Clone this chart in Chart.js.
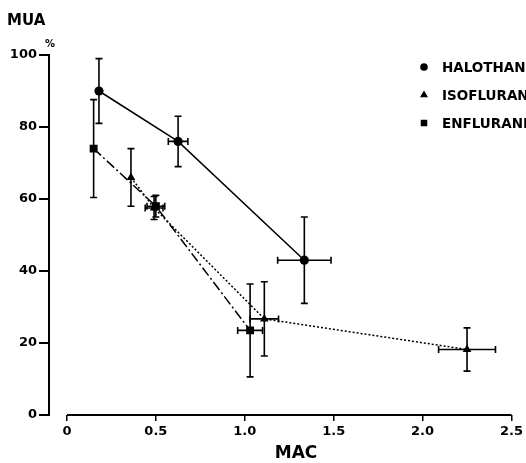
<!DOCTYPE html>
<html>
<head>
<meta charset="utf-8">
<script src="https://cdn.jsdelivr.net/npm/chart.js@4.4.0/dist/chart.umd.min.js"></script>
<style>
  html, body { margin: 0; padding: 0; background: #fff; }
  canvas { display: block; }
</style>
</head>
<body>
<canvas id="c" width="526" height="463"></canvas>
<script>
// ------------------------------------------------------------
//  MUA (%) vs MAC for three volatile anaesthetics
//  values, with SEM bars
// ------------------------------------------------------------
const seriesNames = ['HALOTHANE', 'ISOFLURANE', 'ENFLURANE'];

const haloMac  = [0.18, 0.625, 1.335];
const haloMua  = [90, 76, 43];
const haloErrY = [9, 7, 12];
const haloErrX = [0, 0.055, 0.15];

const isoMac  = [0.36, 0.49, 1.11, 2.25];
const isoMua  = [66, 57.5, 26.7, 18.2];
const isoErrY = [8, 3.2, 10.3, 6];
const isoErrX = [0, 0.05, 0.08, 0.16];

const enfMac  = [0.15, 0.5, 1.03];
const enfMua  = [74, 58, 23.5];
const enfErrY = [13.6, 3, 12.9];
const enfErrX = [0, 0.05, 0.07];

const xTicks      = [0, 0.5, 1.0, 1.5, 2.0, 2.5];
const xTickLabels = ['0', '0.5', '1.0', '1.5', '2.0', '2.5'];
const yTicks      = [0, 20, 40, 60, 80, 100];

const FONT = 'DejaVu Sans';
const INK  = '#000';

const pts = (xs, ys) => xs.map((x, i) => ({ x, y: ys[i] }));

function series(label, xs, ys, errX, errY, style, radius, dash) {
  return {
    label,
    data: pts(xs, ys),
    errX, errY,
    showLine: true,
    borderColor: INK,
    backgroundColor: INK,
    borderWidth: 1.5,
    borderDash: dash,
    pointStyle: style,
    pointRadius: radius,
    pointBorderWidth: 0,
    pointBackgroundColor: INK,
  };
}

// error bars (drawn under the markers)
const errorBars = {
  id: 'errorBars',
  beforeDatasetsDraw(chart) {
    const { ctx, scales: { x, y } } = chart;
    const cap = 3.5;
    ctx.save();
    ctx.strokeStyle = INK;
    ctx.lineWidth = 1.6;
    ctx.setLineDash([]);
    chart.data.datasets.forEach(ds => {
      ds.data.forEach((p, i) => {
        const px = x.getPixelForValue(p.x);
        const py = y.getPixelForValue(p.y);
        const ey = ds.errY[i], ex = ds.errX[i];
        ctx.beginPath();
        if (ey) {
          const t = y.getPixelForValue(p.y + ey), b = y.getPixelForValue(p.y - ey);
          ctx.moveTo(px, t); ctx.lineTo(px, b);
          ctx.moveTo(px - cap, t); ctx.lineTo(px + cap, t);
          ctx.moveTo(px - cap, b); ctx.lineTo(px + cap, b);
        }
        if (ex) {
          const l = x.getPixelForValue(p.x - ex), r = x.getPixelForValue(p.x + ex);
          ctx.moveTo(l, py); ctx.lineTo(r, py);
          ctx.moveTo(l, py - cap); ctx.lineTo(l, py + cap);
          ctx.moveTo(r, py - cap); ctx.lineTo(r, py + cap);
        }
        ctx.stroke();
      });
    });
    ctx.restore();
  }
};

// detached x axis line, axis titles and the key
const decorations = {
  id: 'decorations',
  afterDraw(chart) {
    const { ctx, scales: { x, y } } = chart;
    ctx.save();
    ctx.strokeStyle = INK;
    ctx.fillStyle = INK;

    const by = chart.chartArea.bottom;
    ctx.lineWidth = 2;
    ctx.beginPath();
    ctx.moveTo(x.getPixelForValue(xTicks[0]), by);
    ctx.lineTo(x.getPixelForValue(xTicks[xTicks.length - 1]), by);
    ctx.stroke();

    ctx.textBaseline = 'alphabetic';
    ctx.textAlign = 'left';
    ctx.font = `bold 15px "${FONT}"`;
    ctx.fillText('MUA', 7, 25);
    ctx.font = `bold 10px "${FONT}"`;
    ctx.fillText('%', 45, 47);

    ctx.textAlign = 'center';
    ctx.font = `bold 17px "${FONT}"`;
    ctx.fillText('MAC', 296, 458);

    // key
    ctx.textAlign = 'left';
    ctx.font = `bold 13.5px "${FONT}"`;
    chart.data.datasets.forEach((ds, i) => {
      const ky = 67 + i * 28;
      Chart.helpers.drawPoint(ctx, {
        pointStyle: ds.pointStyle,
        radius: ds.pointStyle === 'circle' ? 3.8 : 4.6,
        rotation: 0,
        borderWidth: 0
      }, 424, ky);
      ctx.fillText(ds.label, 442, ky + 5);
    });
    ctx.restore();
  }
};

new Chart(document.getElementById('c'), {
  type: 'scatter',
  data: {
    datasets: [
      series(seriesNames[0], haloMac, haloMua, haloErrX, haloErrY, 'circle', 4.6, []),
      series(seriesNames[1], isoMac, isoMua, isoErrX, isoErrY, 'triangle', 5, [2, 2]),
      series(seriesNames[2], enfMac, enfMua, enfErrX, enfErrY, 'rect', 5.6, [10, 3, 2, 3]),
    ]
  },
  options: {
    responsive: false,
    animation: false,
    devicePixelRatio: 1,
    layout: { padding: { top: 55, right: 14, left: 0, bottom: 0 } },
    plugins: {
      legend: { display: false },
      tooltip: { enabled: false },
    },
    scales: {
      x: {
        type: 'linear',
        min: -0.101,
        max: 2.5,
        afterBuildTicks: s => { s.ticks = xTicks.map(v => ({ value: v })); },
        afterFit: s => { s.height = 48; },
        border: { display: false },
        grid: { drawOnChartArea: false, drawTicks: true, tickLength: 6, color: INK, lineWidth: 1.5 },
        ticks: {
          color: INK,
          padding: 3,
          maxRotation: 0,
          font: { family: FONT, size: 13, weight: 'bold' },
          callback: v => xTickLabels[xTicks.indexOf(v)] ?? '',
        },
      },
      y: {
        min: 0,
        max: 100,
        afterBuildTicks: s => { s.ticks = yTicks.map(v => ({ value: v })); },
        afterFit: s => { s.width = 49; },
        border: { display: true, color: INK, width: 2 },
        grid: { drawOnChartArea: false, drawTicks: true, tickLength: 10, color: INK, lineWidth: 2 },
        ticks: {
          color: INK,
          padding: 2,
          font: { family: FONT, size: 13, weight: 'bold' },
        },
      },
    },
  },
  plugins: [errorBars, decorations],
});
</script>
</body>
</html>
